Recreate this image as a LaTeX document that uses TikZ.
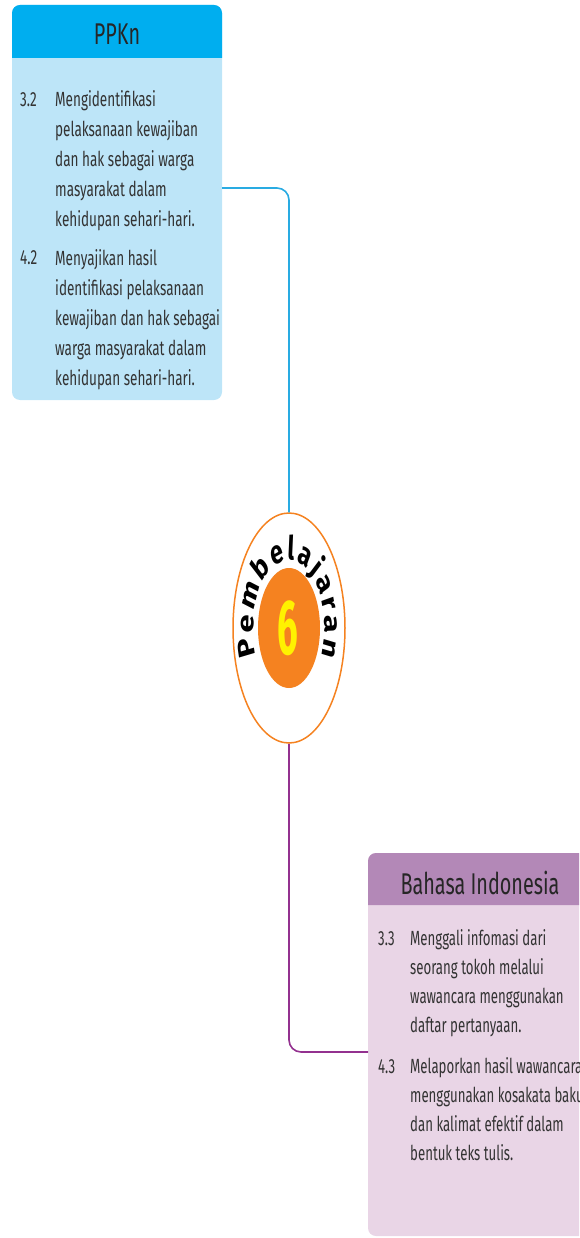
\documentclass[tikz,border=0pt]{standalone}
\usepackage{fontspec}
\setmainfont{Fira Sans}
\newfontfamily\condfont{Fira Sans}[FakeStretch=0.66]
\newfontfamily\condfontb{Fira Sans}[FakeStretch=0.645]
\usetikzlibrary{shapes.geometric,decorations.text}
\definecolor{ppkdark}{HTML}{00AEEF}
\definecolor{ppklight}{HTML}{BDE5F8}
\definecolor{bluecon}{HTML}{29ABE2}
\definecolor{orng}{HTML}{F58220}
\definecolor{yell}{HTML}{FFF200}
\definecolor{bidark}{HTML}{B388B7}
\definecolor{bilight}{HTML}{E9D5E6}
\definecolor{purpcon}{HTML}{93318F}
\definecolor{txt}{HTML}{333333}
\tikzset{
  body/.style={anchor=base west, inner sep=0pt, align=left, text=txt, font=\condfont\fontsize{20.5}{30}\selectfont},
  bodyb/.style={body, font=\condfontb\fontsize{20.5}{29}\selectfont},
  title/.style={anchor=base, inner sep=0pt, text=black!85, font=\condfont\fontsize{30}{30}\selectfont},
  conn/.style={line width=1.6pt, rounded corners=12pt},
}
\begin{document}
\begin{tikzpicture}[x=1pt,y=1pt]
\useasboundingbox (0,0) rectangle (579,-1238);
\clip (0,0) rectangle (579,-1238);
% PPKn box
\node[draw=none, fill=ppklight, rounded corners=8pt, minimum width=210pt, minimum height=395pt, inner sep=0pt] (ppkn) at (117,-202.5) {};
\fill[ppkdark] (12,-58) [rounded corners=8pt]-- (12,-5) -- (222,-5) [sharp corners]-- (222,-58) -- cycle;
\node[title] (ppkt) at (117,-45) {PPKn};
% base anchor = baseline of the last line
\node[body] (n32) at (20,-107) {3.2};
\node[body] (t32) at (55,-227) {Mengidentifikasi\\pelaksanaan kewajiban\\dan hak sebagai warga\\masyarakat dalam\\kehidupan sehari-hari.};
\node[body] (n42) at (20,-265) {4.2};
\node[body] (t42) at (55,-385) {Menyajikan hasil\\identifikasi pelaksanaan\\kewajiban dan hak sebagai\\warga masyarakat dalam\\kehidupan sehari-hari.};
% Bahasa Indonesia box
\node[draw=none, fill=bilight, rounded corners=8pt, minimum width=240pt, minimum height=383pt, inner sep=0pt] (bi) at (488,-1044.5) {};
\fill[bidark] (368,-905) [rounded corners=8pt]-- (368,-853) -- (608,-853) [sharp corners]-- (608,-905) -- cycle;
\node[title] (bit) at (480,-894.5) {Bahasa Indonesia};
\node[bodyb] (n33) at (378,-945) {3.3};
\node[bodyb] (t33) at (410,-1032) {Menggali infomasi dari\\seorang tokoh melalui\\wawancara menggunakan\\daftar pertanyaan.};
\node[bodyb] (n43) at (378,-1073) {4.3};
\node[bodyb] (t43) at (410,-1160) {Melaporkan hasil wawancara\\menggunakan kosakata baku\\dan kalimat efektif dalam\\bentuk teks tulis.};
% centre ellipse
\node[ellipse, draw=orng, line width=1.5pt, fill=white, minimum width=112pt, minimum height=230pt, inner sep=0pt] (pem) at (289,-628) {};
\node[ellipse, fill=orng, minimum width=62pt, minimum height=120pt, inner sep=0pt] (inner) at (289,-628) {};
\node[inner sep=0pt, text=yell] (six) at (288,-628) {\scalebox{0.47}[1]{\fontsize{78}{78}\selectfont\bfseries 6}};
\begin{scope}[transform canvas={xscale=0.7}]
\coordinate (ac) at (412.857,-628);
\path[decorate, decoration={text along path, text={|\fontsize{33}{33}\selectfont\bfseries|Pembelajaran}, text align={fit to path}}]
  (ac) ++(204:51pt and 68pt) arc[start angle=204, end angle=-24, x radius=51pt, y radius=68pt];
\end{scope}
% connectors
\coordinate (c1) at (222,-188);
\draw[conn, bluecon] (c1) -- (pem.north |- c1) -- (pem.north);
\coordinate (c2) at (368,-1052);
\draw[conn, purpcon] (pem.south) -- (pem.south |- c2) -- (c2);
\end{tikzpicture}
\end{document}
